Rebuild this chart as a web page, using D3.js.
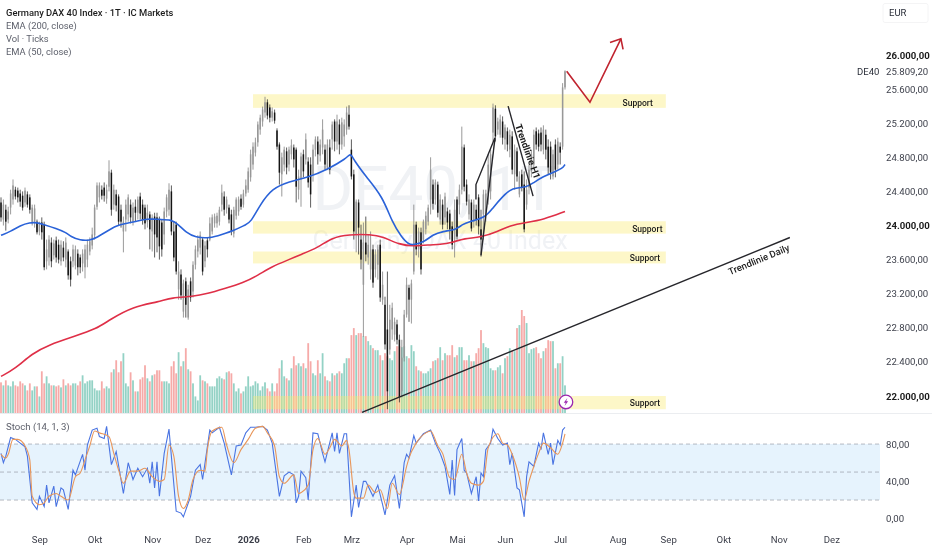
<!DOCTYPE html>
<html>
<head>
<meta charset="utf-8">
<script src="https://d3js.org/d3.v7.min.js"></script>
<style>
    html, body { margin:0; padding:0; background:#fff; }
    svg { display:block; filter:blur(0.4px); }
    text { font-family:Roboto, "Noto Sans", sans-serif; }
    .axis path, .axis line { display:none; }
    .axis text { fill:#3c3f4a; font-size:9.6px; font-family:Roboto, sans-serif; }
</style>
</head>
<body>
<div id="chart"></div>
<script>
// daily candles
var highs = [
    24330,24305,24245,24220,24420,24540,24455,24445,24420,24400,
    24445,24400,24365,24245,24245,24070,24045,24095,24045,23835,
    23885,23860,23835,23870,23835,23825,23815,23860,23720,23635,
    23775,23765,23720,23660,23720,23775,23835,23860,23975,24245,
    24505,24505,24470,24505,24480,24765,24655,24480,24420,24365,
    24245,24105,24305,24365,24305,24270,24305,24340,24385,24305,
    24245,24245,24165,24130,24150,24150,24105,24070,24210,24365,
    24495,24470,24045,24045,23580,23485,23365,23390,23305,23390,
    23580,23765,23885,23930,23860,23815,23860,24095,24130,24140,
    24150,24220,24480,24400,24340,24245,24185,24220,24330,24340,
    24365,24420,24540,24680,24890,24975,25030,25220,25300,25395,
    25510,25480,25420,25385,25360,25140,24975,24855,24925,24915,
    24925,25010,24950,24915,24655,24855,24890,25080,24800,24800,
    24950,25045,25045,25010,25245,24950,25010,25010,25220,25245,
    25300,25245,25265,25245,25395,25410,25010,24655,24305,24305,
    24010,24035,24105,23895,23930,23775,23720,23775,23835,23460,
    23165,23460,23070,23095,22920,22895,22720,22660,23010,23390,
    23305,23365,24245,24045,23975,23975,24070,24165,24245,24800,
    24540,24540,24515,24365,24305,24385,24210,24185,24045,24305,
    24340,24480,25160,24950,24540,24365,24305,24305,24245,24365,
    24185,24420,24420,24835,24890,25430,25410,25265,25300,25280,
    25185,25150,25125,25105,24950,24915,24635,24655,24635,24540,
    24715,24890,25125,25150,25125,25150,25175,25125,25010,24985,
    24890,25010,25030,24975,25670,25820
];
var opens = [
    24270,24070,24185,24070,24210,24305,24420,24410,24375,24350,
    24270,24365,24330,24025,24045,24045,23930,24035,24010,23580,
    23625,23800,23650,23825,23775,23580,23740,23600,23695,23580,
    23580,23530,23670,23625,23555,23510,23600,23695,23765,23885,
    24220,24330,24420,24445,24315,24455,24620,24245,24365,24340,
    24185,23930,24070,24130,24245,24045,24220,24150,24340,24245,
    24210,24045,24130,23930,24105,24095,24070,24035,23895,24165,
    24185,24400,23930,24010,23250,23425,22990,23345,22920,23345,
    23225,23540,23695,23740,23835,23580,23825,23835,23930,24025,
    24025,24045,24245,24340,24200,24210,24130,23905,24115,24165,
    24315,24245,24375,24420,24565,24715,24855,24975,25125,25220,
    25325,25445,25385,25265,25325,25115,24950,24600,24715,24870,
    24715,24835,24915,24890,24420,24540,24835,24775,24750,24715,
    24600,24890,24985,24820,24915,24890,24680,24915,25010,25220,
    24985,25185,24950,25045,25125,25300,24890,24600,23895,24270,
    23835,23305,23800,23625,23485,23720,23485,23540,23775,23130,
    23070,22780,22545,22780,22720,22840,22660,22055,22450,22955,
    23270,23130,23460,24010,23720,23920,23835,23955,24045,24305,
    24480,24305,24480,24070,24245,24095,24165,24140,23990,23835,
    24305,24245,24420,24915,24480,24130,24270,24045,24185,24330,
    23955,24130,24165,24365,24400,25090,25370,25125,25065,25220,
    25010,25105,24890,25045,24600,24870,24365,24600,24480,24245,
    24445,24635,24715,25105,25080,25090,24890,25065,24925,24925,
    24575,24950,24715,24925,24925,25620
];
var closes = [
    24095,24245,24045,24165,24375,24470,24340,24330,24280,24210,
    24410,24245,24185,24210,24200,23920,24010,23920,23510,23720,
    23835,23580,23790,23625,23600,23775,23625,23800,23415,23365,
    23720,23720,23510,23510,23670,23720,23775,23815,23895,24210,
    24470,24470,24350,24350,24420,24635,24185,24420,24235,24045,
    24045,24045,24245,24330,24095,24210,24150,24305,24140,24070,
    24025,24150,23955,24095,23895,23860,23755,23720,24165,24330,
    24420,23930,23625,23460,23460,23180,23320,23070,23250,23155,
    23540,23720,23835,23885,23460,23765,23720,24025,24095,24105,
    24115,24185,24385,24185,24305,24070,23930,24185,24305,24305,
    24220,24375,24470,24635,24835,24925,24975,25185,25265,25360,
    25445,25290,25265,25340,25230,24925,24620,24800,24890,24680,
    24890,24940,24775,24455,24575,24810,24635,25010,24505,24365,
    24890,25010,24835,24950,25125,24715,24950,24655,25185,24985,
    25220,24950,25210,25185,25325,25160,24575,23930,24280,23975,
    23600,23800,23660,23775,23720,23330,23660,23720,23155,23305,
    22605,22055,22895,23035,22870,22660,21985,22450,22955,23305,
    23130,23320,24010,23720,23930,23485,24045,24115,24210,24655,
    24255,24505,24150,24305,24010,24340,24035,23955,23775,24185,
    23870,24420,24925,24455,24280,24305,23965,24245,24070,23990,
    23835,24365,24375,24715,24835,25385,25045,25220,25245,25030,
    25150,24950,25065,24655,24890,24575,24575,24445,23955,24420,
    24655,24835,25065,24950,24925,24950,25125,24890,24680,24620,
    24835,24655,24985,24855,25620,25809
];
var lows = [
    24045,24000,23940,24025,24130,24245,24305,24270,24220,24175,
    24220,24210,24140,24000,23975,23895,23885,23835,23475,23485,
    23530,23510,23600,23565,23555,23530,23580,23510,23365,23285,
    23510,23485,23415,23440,23460,23380,23510,23650,23720,23835,
    24185,24270,24305,24280,24255,24400,24115,24185,24165,24000,
    23975,23685,23930,24045,24025,24000,24045,24070,24070,24010,
    23955,23975,23720,23695,23625,23685,23600,23635,23775,24095,
    24115,23885,23580,23425,23130,23130,22920,22920,22895,23105,
    23155,23485,23625,23660,23415,23510,23625,23815,23895,23975,
    23975,24000,24165,24115,24140,24025,23885,23860,24070,24115,
    24185,24210,24340,24385,24515,24655,24810,24925,25065,25160,
    25265,25245,25210,25220,25195,24890,24480,24340,24635,24600,
    24635,24775,24680,24270,24305,24220,24565,24715,24445,24210,
    24515,24810,24715,24750,24835,24655,24655,24600,24890,24870,
    24890,24835,24890,24925,25065,25125,24540,23835,23685,23660,
    23485,22695,23580,23540,23365,23270,23390,23365,23105,23070,
    22545,21845,22485,22660,22640,22605,21925,21985,22405,22920,
    22870,22850,23425,23650,23625,23425,23790,23895,24000,24130,
    24185,24245,24095,24010,23955,24010,23955,23835,23720,23625,
    23835,24130,24365,24400,24235,24070,23930,23975,24000,23895,
    23635,23835,24045,24245,24305,24985,24985,25065,25030,24950,
    24890,24870,24800,24600,24420,24515,24330,24400,23920,24185,
    24365,24565,24655,24890,24870,24870,24835,24775,24600,24540,
    24540,24565,24655,24715,24890,25595
];
var volumes = [
    31,28,33,28,27,32,28,27,32,30,
    28,23,30,23,27,27,17,42,30,37,
    30,28,28,27,28,26,34,28,30,28,
    30,30,28,32,38,30,32,33,33,25,
    23,23,32,25,27,25,41,44,53,41,
    52,60,30,27,41,33,22,22,34,36,
    48,35,32,38,39,43,43,32,32,32,
    30,47,52,40,61,47,52,65,44,42,
    30,17,13,38,33,32,30,27,27,27,
    35,37,35,34,41,42,40,30,22,25,
    20,22,27,37,27,28,32,30,23,27,
    31,25,22,30,22,30,45,53,37,35,
    33,45,57,48,50,47,50,45,70,52,
    40,38,53,40,60,37,33,32,40,38,
    40,42,40,50,55,55,78,85,78,80,
    80,77,77,72,68,65,63,63,58,53,
    60,57,55,53,62,67,67,66,67,57,
    55,68,62,47,43,42,40,40,42,45,
    52,53,55,66,53,60,58,58,68,56,
    58,66,66,53,53,58,52,52,60,65,
    83,70,66,65,45,43,43,46,48,40,
    55,57,65,63,62,85,88,103,97,90,
    60,64,65,66,60,55,62,65,73,72,
    72,45,50,50,57,28
];

// moving averages, sampled along the lines
var ema50Bars = [0,4,8,12,15,18,23,27,29,33,37,40,44,48,52,56,61,66,71,74,77,81,87,92,97,102,104,108,113,120,128,136,144,145,146,147,152,159,163,167,170,172,176,180,184,190,192,195,202,205,209,213,219,222,226,230,234,235];
var ema50Vals = [23885,23930,24000,24035,24035,24010,23965,23920,23870,23825,23825,23860,23930,24000,24025,24045,24080,24070,24070,24010,23920,23860,23850,23895,23940,24010,24035,24245,24435,24515,24565,24655,24790,24830,24830,24770,24575,24340,24035,23860,23775,23775,23800,23895,23930,23955,24010,24045,24095,24210,24340,24445,24445,24505,24575,24620,24670,24715];
var ema200Bars = [0,6,13,20,30,40,45,55,66,71,80,86,93,101,107,113,120,125,132,138,145,154,159,166,172,178,183,188,193,200,207,212,219,226,235];
var ema200Vals = [22230,22320,22500,22600,22695,22790,22890,23050,23105,23155,23165,23200,23260,23330,23415,23520,23600,23660,23740,23860,23895,23895,23870,23775,23755,23775,23775,23800,23850,23860,23930,24000,24035,24070,24165];

// stochastic %K and %D
var stochKBars = [0,1,2,4,6,8,10,11,13,15,16,18,19,20,22,23,25,26,28,30,31,34,35,36,38,40,41,43,44,46,48,51,53,55,57,59,61,62,63,64,65,66,68,70,73,75,76,79,81,83,84,87,88,91,93,96,98,100,102,104,106,109,111,113,116,118,120,122,123,124,
    125,127,128,130,132,134,135,138,139,140,141,143,144,146,148,149,151,152,155,157,159,160,162,164,166,168,169,170,172,173,176,179,181,183,185,187,188,189,190,192,193,194,196,198,199,200,201,202,204,205,207,209,211,212,213,215,216,218,219,220,222,224,225,226,228,229,230,232,233,234,235];
var stochKVals = [70,60,67,87,85,81,77,67,17,10,24,13,36,17,35,13,33,31,10,52,47,69,52,79,95,97,88,86,99,58,72,27,60,42,54,45,54,38,61,33,61,24,70,96,8,6,2,24,52,58,42,95,92,98,81,47,78,79,92,98,98,99,95,81,24,46,50,47,17,24,
    51,44,20,92,91,70,61,92,72,92,70,91,91,2,36,12,40,40,24,36,15,4,36,46,11,60,69,65,89,81,91,95,81,70,56,26,63,25,74,86,52,49,27,45,19,49,45,74,81,96,86,79,81,58,70,33,31,2,45,61,56,81,74,92,69,81,58,84,79,95,98];
var stochDBars = [0,2,3,5,7,10,12,13,16,18,20,23,25,28,31,33,35,37,39,41,45,47,49,51,54,57,60,63,66,68,70,72,74,76,78,80,83,85,86,88,92,94,97,100,103,106,109,111,114,116,118,122,124,
    125,128,130,132,135,137,139,142,144,145,147,148,151,153,156,158,161,163,166,169,170,173,177,179,182,184,187,189,192,194,196,199,201,203,207,209,211,213,216,218,220,222,224,226,229,232,234,235];
var stochDVals = [69,65,69,85,85,78,63,24,15,17,24,27,24,20,45,49,63,78,94,92,88,70,52,38,51,51,54,45,40,42,79,67,24,11,20,42,52,51,74,94,98,79,60,74,85,97,99,92,78,45,38,47,27,
    28,36,74,86,69,76,85,78,84,74,28,22,22,36,28,31,11,38,26,56,65,81,92,94,78,70,44,42,69,49,38,36,40,76,91,81,79,69,44,20,40,56,70,81,76,69,81,91];

// drawn objects, given as bar index and price
var supportBands = [[25540,25380],[24050,23905],[23695,23555],[22000,21845]];
var supportStartBar = 105;
var supportEndBar = 277;
var supportLabels = [[259,25440],[263,23960],[262,23620],[262,21915]];
var dailyLine = [[150.4,21807],[328.7,23859]];
var h1Line = [[211.3,25400],[221.7,24345]];
var wedgeLeft = [[197.9,24305],[197.9,24480],[205.8,25030]];
var wedgeRight = [[200,23650],[205.8,25020]];
var arrowPath = [[235.7,25810],[245.4,25446],[258.3,26190]];
var arrowHead = [[253.75,26147],[258.3,26190],[259.2,26065]];

// tick labels
var priceTicks = [26000,25600,25200,24800,24400,24000,23600,23200,22800,22400,22000];
var boldPrices = [26000,24000,22000];
var stochTicks = [80,40,0];
var stochBands = [80,50,20];
var monthBars = [16,39,63,84,103,126,146,169,190,210,233,257,278,301,324,346];
var monthNames = ["Sep","Okt","Nov","Dez","2026","Feb","Mrz","Apr","Mai","Jun","Jul","Aug","Sep","Okt","Nov","Dez"];
var legendLines = ["Germany DAX 40 Index · 1T · IC Markets","EMA (200, close)","Vol · Ticks","EMA (50, close)"];
var lastPrice = 25809.2;

var svgWidth = 932;
var svgHeight = 550;
var plotRight = 880;

var svg = d3.select("#chart")
            .append("svg")
            .attr("width", svgWidth)
            .attr("height", svgHeight);

// german number format for the price scale
var deLocale = d3.formatLocale({decimal:",", thousands:".", grouping:[3], currency:["","€"]});
var priceFormat = deLocale.format(",.2f");

// scales, one bar is 2.4px wide
var xScale = d3.scaleLinear().domain([0,100]).range([1,241]);
var yScale = d3.scaleLinear().domain([22000,26000]).range([396,55]);
var volScale = d3.scaleLinear().domain([0,d3.max(volumes)]).range([413.5,310]);
var stochScale = d3.scaleLinear().domain([0,100]).range([518.7,425.4]);

var bars = d3.range(highs.length);

// watermark
svg.append("text")
    .attr("x", 435).attr("y", 210)
    .attr("text-anchor","middle")
    .attr("font-size", 62)
    .attr("fill","#f0f2f5")
    .text("DE40, 1T");
svg.append("text")
    .attr("x", 440).attr("y", 249)
    .attr("text-anchor","middle")
    .attr("font-size", 25)
    .attr("fill","#f0f2f5")
    .text("Germany DAX 40 Index");

// volume
svg.append("g")
    .selectAll("rect")
    .data(bars)
    .enter()
    .append("rect")
        .attr("x", d => xScale(d) - 0.9)
        .attr("width", 1.8)
        .attr("y", d => volScale(volumes[d]))
        .attr("height", d => volScale(0) - volScale(volumes[d]))
        .attr("fill", d => closes[d] >= opens[d] ? "#93d2c5" : "#f6aaa8");

// support zones
svg.append("g")
    .selectAll("rect")
    .data(supportBands)
    .enter()
    .append("rect")
        .attr("x", xScale(supportStartBar))
        .attr("width", xScale(supportEndBar) - xScale(supportStartBar))
        .attr("y", d => yScale(d[0]))
        .attr("height", d => yScale(d[1]) - yScale(d[0]))
        .attr("fill","#fbe96e")
        .attr("fill-opacity",0.38);

// candles
var candleGroup = svg.append("g");
candleGroup.selectAll("line")
    .data(bars)
    .enter()
    .append("line")
        .attr("x1", d => xScale(d))
        .attr("x2", d => xScale(d))
        .attr("y1", d => yScale(highs[d]))
        .attr("y2", d => yScale(lows[d]))
        .attr("stroke", d => closes[d] >= opens[d] ? "#808080" : "#333")
        .attr("stroke-width",0.8);
candleGroup.selectAll("rect")
    .data(bars)
    .enter()
    .append("rect")
        .attr("x", d => xScale(d) - 0.75)
        .attr("width", 1.5)
        .attr("y", d => yScale(Math.max(opens[d],closes[d])))
        .attr("height", d => Math.abs(yScale(opens[d]) - yScale(closes[d])))
        .attr("fill", d => closes[d] >= opens[d] ? "#989898" : "#141414");

// ema lines are smooth, the stochastic is jagged
function drawLine(barList, valList, scale, color, width, curve) {
    var lineGen = d3.line().curve(curve);
    svg.append("path")
        .attr("d", lineGen(barList.map((b,i) => [xScale(b), scale(valList[i])])))
        .attr("fill","none")
        .attr("stroke",color)
        .attr("stroke-width",width);
}
drawLine(ema200Bars, ema200Vals, yScale, "#df2f47", 1.6, d3.curveBasis);
drawLine(ema50Bars, ema50Vals, yScale, "#2a62d8", 1.6, d3.curveBasis);

// trend lines and the arrow
var straight = d3.line().x(d => xScale(d[0])).y(d => yScale(d[1]));
[dailyLine, h1Line, wedgeLeft, wedgeRight].forEach(function(l){
    svg.append("path")
        .attr("d", straight(l))
        .attr("fill","none")
        .attr("stroke","#26262b")
        .attr("stroke-width",1.4);
});
[arrowPath, arrowHead].forEach(function(l){
    svg.append("path")
        .attr("d", straight(l))
        .attr("fill","none")
        .attr("stroke","#c0242f")
        .attr("stroke-width",1.6);
});

// labels on the drawings
svg.append("g")
    .selectAll("text")
    .data(supportLabels)
    .enter()
    .append("text")
        .attr("x", d => xScale(d[0]))
        .attr("y", d => yScale(d[1]))
        .attr("dy","0.35em")
        .attr("font-size",8.5)
        .attr("font-weight",500)
        .attr("fill","#1c1c1c")
        .text("Support");
svg.append("text")
    .attr("transform","translate(" + xScale(315.8) + "," + yScale(23600) + ") rotate(-22.5)")
    .attr("font-size",9.5)
    .attr("font-weight",500)
    .attr("text-anchor","middle")
    .attr("dy","0.35em")
    .attr("fill","#1c1c1c")
    .text("Trendlinie Daily");
svg.append("text")
    .attr("transform","translate(" + xScale(219.5) + "," + yScale(24870) + ") rotate(70.5)")
    .attr("font-size",9.5)
    .attr("font-weight",700)
    .attr("text-anchor","middle")
    .attr("dy","0.35em")
    .attr("fill","#1c1c1c")
    .text("Trendlinie H1");

// lightning marker
var bolt = svg.append("g").attr("transform","translate(" + xScale(235.4) + "," + yScale(21930) + ")");
bolt.append("circle").attr("r",6.8).attr("fill","#fff").attr("stroke","#9c27b0").attr("stroke-width",1.3);
bolt.append("path").attr("d","M1.4,-4 L-2.2,0.8 L-0.2,0.8 L-1.4,4 L2.2,-0.8 L0.2,-0.8 Z").attr("fill","#9c27b0");

// stochastic pane
svg.append("line")
    .attr("x1",0).attr("x2",svgWidth)
    .attr("y1",413.5).attr("y2",413.5)
    .attr("stroke","#ebedf0");
svg.append("rect")
    .attr("x",0)
    .attr("width",plotRight)
    .attr("y",stochScale(80))
    .attr("height",stochScale(20) - stochScale(80))
    .attr("fill","#e6f3fd");
svg.append("g")
    .selectAll("line")
    .data(stochBands)
    .enter()
    .append("line")
        .attr("x1",0).attr("x2",plotRight)
        .attr("y1", d => stochScale(d))
        .attr("y2", d => stochScale(d))
        .attr("stroke","#9a9ea8")
        .attr("stroke-width",0.7)
        .attr("stroke-dasharray","4,3");
drawLine(stochKBars, stochKVals, stochScale, "#4a74e2", 1.1, d3.curveLinear);
drawLine(stochDBars, stochDVals, stochScale, "#e8965a", 1.1, d3.curveMonotoneX);

// axes
var priceAxis = d3.axisRight(yScale)
    .tickValues(priceTicks)
    .tickSize(0)
    .tickFormat(priceFormat);
var priceG = svg.append("g")
    .attr("class","axis")
    .attr("transform","translate(886,0)")
    .call(priceAxis);
priceG.selectAll("text")
    .attr("x",0)
    .attr("font-weight", d => boldPrices.indexOf(d) >= 0 ? 700 : 400)
    .style("fill", d => boldPrices.indexOf(d) >= 0 ? "#1c1c1c" : "#3c3f4a");

svg.append("g")
    .attr("class","axis")
    .attr("transform","translate(886,0)")
    .call(d3.axisRight(stochScale).tickValues(stochTicks).tickSize(0).tickFormat(deLocale.format(".2f")))
    .selectAll("text").attr("x",0);

var monthAxis = d3.axisBottom(xScale)
    .tickValues(monthBars)
    .tickSize(0)
    .tickFormat((d,i) => monthNames[i]);
svg.append("g")
    .attr("class","axis")
    .attr("transform","translate(0,533)")
    .call(monthAxis)
    .selectAll("text")
        .attr("y",3)
        .attr("font-weight", (d,i) => monthNames[i] == "2026" ? 700 : 400);

// last price and symbol tag
svg.append("text")
    .attr("x",886).attr("y",yScale(lastPrice))
    .attr("dy","0.35em")
    .attr("font-size",9.6)
    .attr("fill","#3c3f4a")
    .text(priceFormat(lastPrice));
svg.append("text")
    .attr("x",857).attr("y",yScale(lastPrice))
    .attr("dy","0.35em")
    .attr("font-size",9.5)
    .attr("fill","#2a2e39")
    .text("DE40");

// currency box
svg.append("rect")
    .attr("x",883).attr("y",3.5)
    .attr("width",45).attr("height",19)
    .attr("rx",2)
    .attr("fill","#fff")
    .attr("stroke","#f4f4f5");
svg.append("text")
    .attr("x",889).attr("y",13)
    .attr("dy","0.35em")
    .attr("font-size",9.5)
    .attr("fill","#2a2e39")
    .text("EUR");

// legend
svg.append("g")
    .selectAll("text")
    .data(legendLines)
    .enter()
    .append("text")
        .attr("x",6)
        .attr("y",(d,i) => 13 + i*13)
        .attr("dy","0.35em")
        .attr("font-size",9.4)
        .attr("font-weight",(d,i) => i == 0 ? 500 : 400)
        .attr("fill",(d,i) => i == 0 ? "#1c1c1c" : "#5d606b")
        .text(d => d);
svg.append("text")
    .attr("x",6).attr("y",427)
    .attr("dy","0.35em")
    .attr("font-size",9.6)
    .attr("fill","#5d606b")
    .text("Stoch (14, 1, 3)");
</script>
</body>
</html>
